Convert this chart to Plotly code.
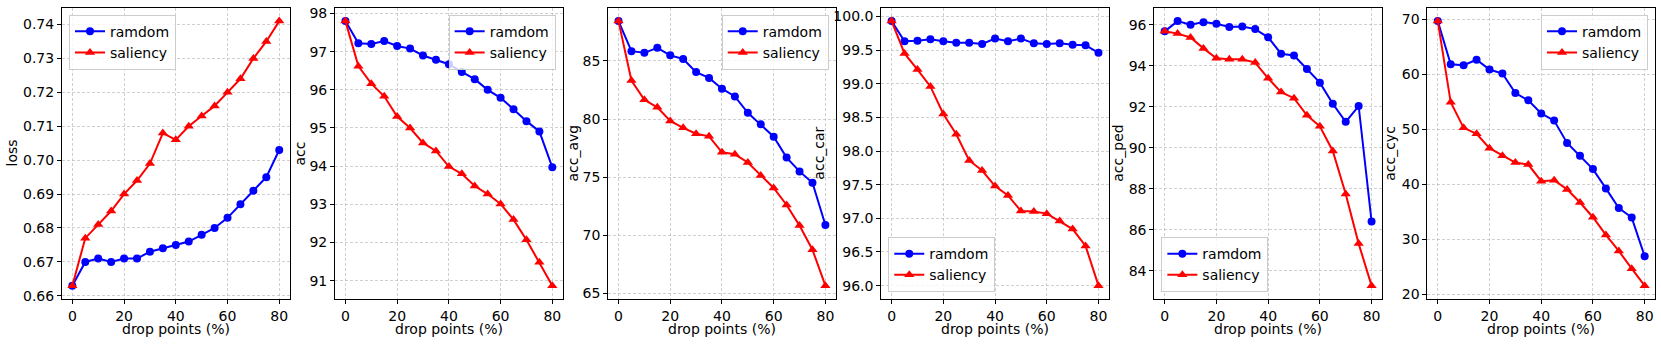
import plotly.graph_objects as go

W, H = 1661, 347

drop_points = [0, 5, 10, 15, 20, 25, 30, 35, 40, 45, 50, 55, 60, 65, 70, 75, 80]
series_names = ["ramdom", "saliency"]

loss_random = [0.663, 0.670, 0.671, 0.670, 0.671, 0.671, 0.673, 0.674, 0.675, 0.676, 0.678, 0.680, 0.683, 0.687, 0.691, 0.695, 0.703]
loss_saliency = [0.663, 0.677, 0.681, 0.685, 0.690, 0.694, 0.699, 0.708, 0.706, 0.710, 0.713, 0.716, 0.720, 0.724, 0.730, 0.735, 0.741]

acc_random = [97.80, 97.22, 97.20, 97.28, 97.15, 97.08, 96.90, 96.79, 96.67, 96.47, 96.28, 96.00, 95.79, 95.49, 95.18, 94.91, 93.97]
acc_saliency = [97.80, 96.62, 96.16, 95.83, 95.30, 95.00, 94.61, 94.40, 93.99, 93.80, 93.48, 93.27, 93.01, 92.60, 92.07, 91.48, 90.87]

acc_avg_random = [88.43, 85.84, 85.70, 86.13, 85.48, 85.17, 84.04, 83.54, 82.61, 81.94, 80.53, 79.54, 78.48, 76.68, 75.49, 74.51, 70.88]
acc_avg_saliency = [88.43, 83.31, 81.65, 81.01, 79.83, 79.24, 78.73, 78.51, 77.13, 76.96, 76.26, 75.13, 74.06, 72.60, 70.82, 68.74, 65.65]

acc_car_random = [99.93, 99.63, 99.64, 99.66, 99.63, 99.61, 99.61, 99.59, 99.67, 99.63, 99.67, 99.60, 99.59, 99.60, 99.58, 99.57, 99.46]
acc_car_saliency = [99.93, 99.45, 99.21, 98.96, 98.55, 98.25, 97.86, 97.71, 97.48, 97.34, 97.11, 97.10, 97.07, 96.96, 96.84, 96.59, 96.00]

acc_ped_random = [95.68, 96.18, 96.00, 96.13, 96.05, 95.89, 95.92, 95.79, 95.39, 94.59, 94.50, 93.84, 93.18, 92.15, 91.27, 92.04, 86.41]
acc_ped_saliency = [95.68, 95.57, 95.38, 94.85, 94.37, 94.32, 94.32, 94.16, 93.39, 92.72, 92.42, 91.59, 91.05, 89.85, 87.75, 85.33, 83.28]

acc_cyc_random = [69.64, 61.79, 61.61, 62.62, 60.83, 60.12, 56.55, 55.24, 52.86, 51.55, 47.50, 45.18, 42.74, 39.23, 35.65, 33.93, 26.90]
acc_cyc_saliency = [69.64, 54.88, 50.24, 49.17, 46.55, 45.18, 43.93, 43.57, 40.54, 40.71, 39.05, 36.67, 33.99, 30.77, 27.86, 24.64, 21.55]

x_label = "drop points (%)"
y_labels = ["loss", "acc", "acc_avg", "acc_car", "acc_ped", "acc_cyc"]
panels = [
    (loss_random, loss_saliency),
    (acc_random, acc_saliency),
    (acc_avg_random, acc_avg_saliency),
    (acc_car_random, acc_car_saliency),
    (acc_ped_random, acc_ped_saliency),
    (acc_cyc_random, acc_cyc_saliency),
]
y_dticks = [0.01, 1, 5, 0.5, 2, 10]
y_formats = [".2f", "d", "d", ".1f", "d", "d"]
legend_locs = ["upper left", "upper right", "upper right", "lower left", "lower left", "upper right"]
ylabel_offsets = [50, 35, 35, 62, 36, 37]

colors = ["#0000ff", "#ff0000"]
symbols = ["circle", "triangle-up"]
FONT = "DejaVu Sans"

# layout (pixels)
left_px, right_px = 62, 1655
top_px, bottom_px = 6, 303
n = 6
wspace = 0.2
w = (right_px - left_px) / (n + (n - 1) * wspace)
gap = w * wspace

fig = go.Figure()
grid_color = "rgba(176,176,176,0.6)"
pad = 7

for i, (ys_r, ys_s) in enumerate(panels):
    idx = "" if i == 0 else str(i + 1)
    x0 = left_px + i * (w + gap)
    x1 = x0 + w
    dom_x = [x0 / W, x1 / W]
    dom_y = [1 - bottom_px / H, 1 - top_px / H]
    legend_name = "legend" if i == 0 else f"legend{i+1}"

    for ys, name, c, s in zip((ys_r, ys_s), series_names, colors, symbols):
        fig.add_trace(go.Scatter(
            x=drop_points, y=ys, name=name, mode="lines+markers",
            line=dict(color=c, width=2),
            marker=dict(color=c, size=8 if s == "circle" else 9, symbol=s),
            xaxis="x" + idx, yaxis="y" + idx, legend=legend_name,
        ))

    ymin = min(min(ys_r), min(ys_s))
    ymax = max(max(ys_r), max(ys_s))
    m = (ymax - ymin) * 0.05
    axis_common = dict(
        showline=True, mirror=True, linecolor="black", linewidth=1,
        ticks="outside", ticklen=4, tickwidth=1, tickcolor="black",
        showgrid=True, gridcolor=grid_color, gridwidth=0.8, griddash="3px,2px",
        zeroline=False, tickfont=dict(family=FONT, size=14, color="black"),
    )
    fig.update_layout(**{
        "xaxis" + idx: dict(domain=dom_x, range=[-4, 84], dtick=20, tick0=0,
                            anchor="y" + idx, **axis_common),
        "yaxis" + idx: dict(domain=dom_y, range=[ymin - m, ymax + m], dtick=y_dticks[i],
                            tickformat=y_formats[i], anchor="x" + idx, **axis_common),
    })

    loc = legend_locs[i]
    if loc == "upper left":
        lx, ly, xa, ya = (x0 + pad) / W, 1 - (top_px + pad) / H, "left", "top"
    elif loc == "upper right":
        lx, ly, xa, ya = (x1 - pad) / W, 1 - (top_px + pad) / H, "right", "top"
    else:
        lx, ly, xa, ya = (x0 + pad) / W, 1 - (bottom_px - pad) / H, "left", "bottom"
    fig.update_layout(**{legend_name: dict(
        x=lx, y=ly, xanchor=xa, yanchor=ya, xref="paper", yref="paper",
        bgcolor="rgba(255,255,255,0.8)", bordercolor="#cccccc", borderwidth=1,
        font=dict(family=FONT, size=14, color="black"), tracegroupgap=0,
    )})

    fig.add_annotation(text=x_label, xref="paper", yref="paper",
                       x=(x0 + x1) / 2 / W, y=1 - 334 / H, showarrow=False,
                       xanchor="center", yanchor="middle",
                       font=dict(family=FONT, size=14, color="black"))
    fig.add_annotation(text=y_labels[i], xref="paper", yref="paper",
                       x=(x0 - ylabel_offsets[i]) / W, y=1 - (top_px + bottom_px) / 2 / H,
                       showarrow=False, textangle=-90, xanchor="center", yanchor="middle",
                       font=dict(family=FONT, size=14, color="black"))

fig.update_layout(
    width=W, height=H, margin=dict(l=0, r=0, t=0, b=0),
    paper_bgcolor="white", plot_bgcolor="white", showlegend=True,
    font=dict(family=FONT, size=14, color="black"),
)

fig.write_html(
    "out.html",
    config={"displayModeBar": False},
    post_script="document.body.style.margin='0px';document.body.style.overflow='hidden';",
)
